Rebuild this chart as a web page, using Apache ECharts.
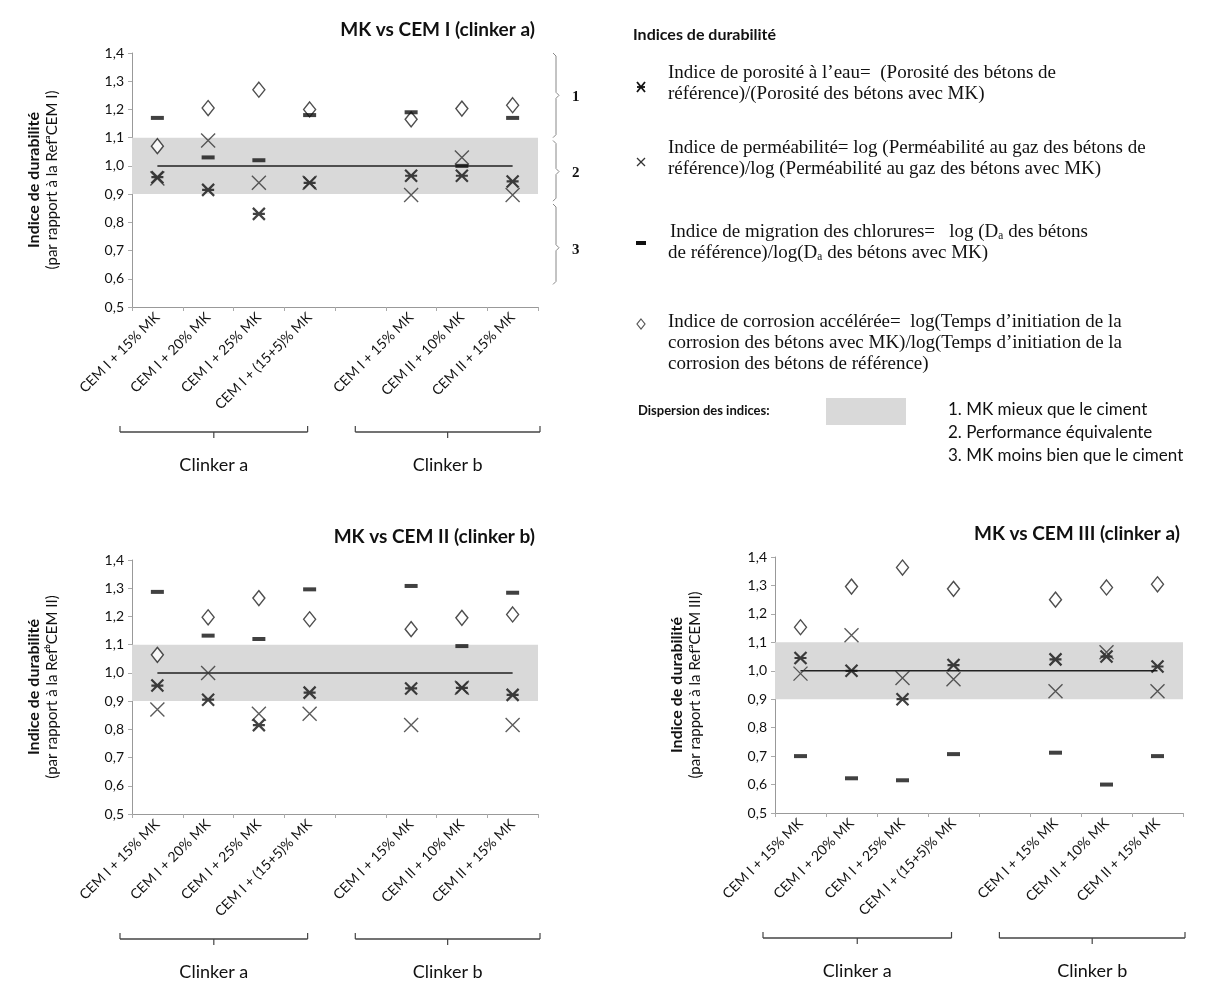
<!DOCTYPE html>
<html><head><meta charset="utf-8">
<script src="https://cdn.jsdelivr.net/npm/echarts@6/dist/echarts.min.js"></script>
<style>html,body{margin:0;padding:0;background:#fff}#c{width:1214px;height:985px}</style>
</head><body><div id="c"></div>
<script>
// ---------- data ----------
const categories = ['CEM I + 15% MK','CEM I + 20% MK','CEM I + 25% MK','CEM I + (15+5)% MK','','CEM I + 15% MK','CEM II + 10% MK','CEM II + 15% MK'];
const groupLabels = ['Clinker a','Clinker b'];
const titles = ['MK vs CEM I (clinker a)','MK vs CEM II (clinker b)','MK vs CEM III (clinker a)'];
const refNames = ['(par rapport à la Ref\u1d43CEM I)','(par rapport à la Ref\u1d47CEM II)','(par rapport à la Ref\u1d43CEM III)'];
const yMin = 0.5, yMax = 1.4, yStep = 0.1;
const bandLow = 0.9, bandHigh = 1.1;
const refLine = [1,1,1,1,1,1,1,1];

// MK vs CEM I (clinker a)
const c1Porosite     = [0.96, 0.915, 0.83, 0.94, null, 0.965, 0.965, 0.945];
const c1Permeabilite = [0.955, 1.09, 0.94, 0.94, null, 0.897, 1.03, 0.897];
const c1Chlorures    = [1.17, 1.03, 1.02, 1.18, null, 1.19, 1.0, 1.17];
const c1Corrosion    = [1.07, 1.205, 1.27, 1.2, null, 1.165, 1.203, 1.215];
// MK vs CEM II (clinker b)
const c2Porosite     = [0.955, 0.905, 0.815, 0.93, null, 0.945, 0.947, 0.922];
const c2Permeabilite = [0.87, 1.0, 0.855, 0.855, null, 0.815, 0.947, 0.815];
const c2Chlorures    = [1.287, 1.132, 1.12, 1.296, null, 1.308, 1.095, 1.284];
const c2Corrosion    = [1.064, 1.197, 1.265, 1.19, null, 1.155, 1.195, 1.207];
// MK vs CEM III (clinker a)
const c3Porosite     = [1.045, 1.0, 0.9, 1.02, null, 1.04, 1.05, 1.015];
const c3Permeabilite = [0.99, 1.125, 0.975, 0.97, null, 0.928, 1.065, 0.928];
const c3Chlorures    = [0.70, 0.622, 0.615, 0.707, null, 0.712, 0.6, 0.70];
const c3Corrosion    = [1.153, 1.296, 1.363, 1.288, null, 1.25, 1.293, 1.304];

const braces = [
  {from:1.4, to:1.1, mid:1.25, label:'1'},
  {from:1.09, to:0.875, mid:0.98, label:'2'},
  {from:0.865, to:0.58, mid:0.71, label:'3'}
];

// ---------- layout ----------
const SANS = 'Lato, "Open Sans", "DejaVu Sans", sans-serif';
const SERIF = '"Liberation Serif", "DejaVu Serif", serif';
const grids = [
  {left:132, top:53, width:406, height:254},
  {left:132, top:560, width:406, height:254},
  {left:775, top:557, width:408, height:256}
];
const chartData = [
  [c1Porosite, c1Permeabilite, c1Chlorures, c1Corrosion],
  [c2Porosite, c2Permeabilite, c2Chlorures, c2Corrosion],
  [c3Porosite, c3Permeabilite, c3Chlorures, c3Corrosion]
];
const seriesNames = ['Indice de porosité','Indice de perméabilité','Indice de migration des chlorures','Indice de corrosion accélérée'];
const symbolDefs = [
  {symbol:'path://M0,0L10,10M10,0L0,10M0,5L10,5', size:12, style:{color:'transparent', borderColor:'#111', borderWidth:2.2}},
  {symbol:'path://M0,0L10,10M10,0L0,10', size:14, style:{color:'transparent', borderColor:'#333', borderWidth:1.4}},
  {symbol:'rect', size:[13,4], style:{color:'#111', borderWidth:0}},
  {symbol:'diamond', size:[12,15], style:{color:'#fff', borderColor:'#222', borderWidth:1.4}}
];

const series = [];
const xAxes = [], yAxes = [], titleArr = [];
grids.forEach((g, i) => {
  xAxes.push({
    type:'category', gridIndex:i, data:categories,
    axisLine:{lineStyle:{color:'#999', width:1}},
    axisTick:{show:true, length:4, lineStyle:{color:'#aaa'}},
    axisLabel:{rotate:45, color:'#111', fontFamily:SANS, fontSize:14, margin:8, interval:0}
  });
  yAxes.push({
    type:'value', gridIndex:i, min:yMin, max:yMax, interval:yStep,
    splitLine:{show:false},
    axisLine:{show:true, lineStyle:{color:'#999'}},
    axisTick:{show:true, length:4, lineStyle:{color:'#aaa'}},
    axisLabel:{color:'#111', fontFamily:SANS, fontSize:14, margin:8,
      formatter: v => v.toFixed(1).replace('.', ',')},
    name:'{a|Indice de durabilité}\n{b|' + refNames[i] + '}',
    nameLocation:'middle', nameRotate:90, nameGap:70,
    nameTextStyle:{rich:{
      a:{fontFamily:SANS, fontWeight:'bold', fontSize:16, color:'#111', lineHeight:19},
      b:{fontFamily:SANS, fontSize:15, color:'#111', lineHeight:19}
    }}
  });
  titleArr.push({
    text:titles[i], right: 1214 - (g.left + g.width) - 2, top: g.top - 38,
    textStyle:{fontFamily:SANS, fontWeight:'bold', fontSize:19, color:'#111'}
  });
  series.push({
    type:'line', name:'ref', xAxisIndex:i, yAxisIndex:i, data:refLine,
    symbol:'none', lineStyle:{color:'#222', width:1.5}, z:2, silent:true,
    markArea:{silent:true, itemStyle:{color:'#d9d9d9'}, data:[[{yAxis:bandLow},{yAxis:bandHigh}]]}
  });
  chartData[i].forEach((arr, k) => {
    series.push({
      type:'scatter', name:seriesNames[k], xAxisIndex:i, yAxisIndex:i, data:arr,
      symbol:symbolDefs[k].symbol, symbolSize:symbolDefs[k].size,
      itemStyle:symbolDefs[k].style, z:5 + (k===3?0:1)
    });
  });
});

const chart = echarts.init(document.getElementById('c'), null, {renderer:'canvas'});
chart.setOption({
  animation:false,
  backgroundColor:'#fff',
  title:titleArr,
  grid:grids,
  xAxis:xAxes,
  yAxis:yAxes,
  series:series
});

// ---------- decorations ----------
const gfx = [];
const line = (x1,y1,x2,y2,color,w) => ({type:'line', shape:{x1,y1,x2,y2}, style:{stroke:color||'#333', lineWidth:w||1}, silent:true});
const txt = (x,y,text,font,extra) => ({type:'text', x, y, style:Object.assign({text, font, fill:'#111', textVerticalAlign:'middle'}, extra||{}), silent:true});

// group brackets under each chart
grids.forEach((g, i) => {
  const yB = g.top + g.height + 125;
  const catW = g.width / categories.length;
  const spans = [[g.left - 12, g.left + catW*3.5 - 2], [g.left + catW*4.4, g.left + g.width + 2]];
  spans.forEach((s, j) => {
    const mid = (s[0] + s[1]) / 2;
    gfx.push(line(s[0], yB - 6, s[0], yB, '#444', 1.2));
    gfx.push(line(s[1], yB - 6, s[1], yB, '#444', 1.2));
    gfx.push(line(s[0], yB, s[1], yB, '#444', 1.5));
    gfx.push(line(mid, yB, mid, yB + 6, '#444', 1.2));
    gfx.push(txt(mid, yB + 33, groupLabels[j], '18px ' + SANS, {textAlign:'center'}));
  });
});

// right braces for chart 1
const bx = 556;
braces.forEach(b => {
  const y1 = chart.convertToPixel({yAxisIndex:0}, b.from);
  const y2 = chart.convertToPixel({yAxisIndex:0}, b.to);
  const ym = chart.convertToPixel({yAxisIndex:0}, b.mid);
  gfx.push({type:'polyline', shape:{points:[[bx-3,y1],[bx,y1+3],[bx,ym-3],[bx+3,ym],[bx,ym+3],[bx,y2-3],[bx-3,y2]]},
    style:{stroke:'#888', lineWidth:1, fill:null}, silent:true});
  gfx.push(txt(bx + 16, ym + 2, b.label, 'bold 15px ' + SERIF, {textAlign:'left'}));
});

// legend block
const LX = 668;
gfx.push(txt(633, 35, 'Indices de durabilité', 'bold 16px ' + SANS));
const legendEntries = [
  {sy:87, lines:['Indice de porosité à l\u2019eau=  (Porosité des bétons de','référence)/(Porosité des bétons avec MK)'], y0:73},
  {sy:162, lines:['Indice de perméabilité= log (Perméabilité au gaz des bétons de','référence)/log (Perméabilité au gaz des bétons avec MK)'], y0:148},
  {sy:243, lines:['Indice de migration des chlorures=   log (D\u2090 des bétons','de référence)/log(D\u2090 des bétons avec MK)'], y0:232},
  {sy:324, lines:['Indice de corrosion accélérée=  log(Temps d\u2019initiation de la','corrosion des bétons avec MK)/log(Temps d\u2019initiation de la','corrosion des bétons de référence)'], y0:322}
];
legendEntries.forEach((e, k) => {
  e.lines.forEach((l, j) => gfx.push(txt(k===2 && j===0 ? LX+2 : LX, e.y0 + j*21, l, '19px ' + SERIF)));
  const cx = 641, cy = e.sy;
  if (k === 0) {
    gfx.push(line(cx-4,cy-5,cx+4,cy+5,'#111',1.8));
    gfx.push(line(cx+4,cy-5,cx-4,cy+5,'#111',1.8));
    gfx.push(line(cx-4,cy,cx+4,cy,'#111',1.8));
  } else if (k === 1) {
    gfx.push(line(cx-4,cy-4,cx+4,cy+4,'#333',1.3));
    gfx.push(line(cx+4,cy-4,cx-4,cy+4,'#333',1.3));
  } else if (k === 2) {
    gfx.push({type:'rect', shape:{x:cx-5, y:cy-2, width:10, height:4}, style:{fill:'#111'}, silent:true});
  } else {
    gfx.push({type:'polygon', shape:{points:[[cx,cy-5],[cx+4,cy],[cx,cy+5],[cx-4,cy]]}, style:{fill:'#fff', stroke:'#555', lineWidth:1.2}, silent:true});
  }
});
gfx.push(txt(638, 411, 'Dispersion des indices:', 'bold 13px ' + SANS));
gfx.push({type:'rect', shape:{x:826, y:398, width:80, height:27}, style:{fill:'#d9d9d9'}, silent:true});
['1. MK mieux que le ciment','2. Performance équivalente','3. MK moins bien que le ciment'].forEach((t, j) => {
  gfx.push(txt(948, 410 + j*23, t, '17px ' + SANS));
});

chart.setOption({graphic:{elements:gfx}});
</script>
</body></html>
